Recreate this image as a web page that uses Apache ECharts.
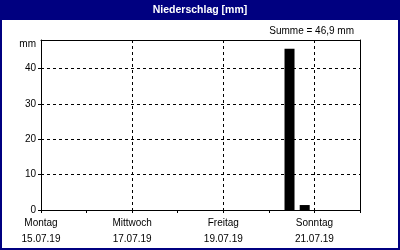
<!DOCTYPE html>
<html>
<head>
<meta charset="utf-8">
<script src="https://cdn.jsdelivr.net/npm/echarts@6/dist/echarts.min.js"></script>
<style>html,body{margin:0;padding:0;background:#fff}#c{width:400px;height:250px}</style>
</head>
<body>
<div id="c"></div>
<script>
// Days shown on the x axis (one tick per day)
const dayNames = ['Montag','Dienstag','Mittwoch','Donnerstag','Freitag','Samstag','Sonntag'];
const dayDates = ['15.07.19','16.07.19','17.07.19','18.07.19','19.07.19','20.07.19','21.07.19'];
// Precipitation in mm per 8-hour bin (3 bins per day, Mon 00:00 .. Sun 24:00)
const rainBins = [
  0, 0, 0,
  0, 0, 0,
  0, 0, 0,
  0, 0, 0,
  0, 0, 0,
  0, 45.5, 1.4,
  0, 0, 0
];
const binsPerDay = 3;
const yMax = 48;
const yStep = 10;

const FONT = 'Liberation Sans';
const total = rainBins.reduce((a, b) => a + b, 0);
const totalText = 'Summe = ' + total.toFixed(1).replace('.', ',') + ' mm';

// bars sit at the start of their bin (left aligned within bin)
const BAR_SHIFT = 0.36;
const barData = rainBins.map((v, i) => [i + BAR_SHIFT, v]);

const black = {color: '#000', width: 1};
const chart = echarts.init(document.getElementById('c'), null, {renderer: 'canvas'});
chart.setOption({
  animation: false,
  backgroundColor: '#ffffff',
  textStyle: {fontFamily: FONT},
  grid: {left: 41, right: 40, top: 40, bottom: 40},
  xAxis: [{
    type: 'value', min: 0, max: rainBins.length, interval: binsPerDay,
    axisLine: {show: true, lineStyle: black},
    axisTick: {show: true, length: 3, lineStyle: black},
    splitLine: {show: false},
    axisLabel: {
      color: '#000', fontSize: 10, fontFamily: FONT, margin: 5, lineHeight: 16,
      formatter: function (v) {
        const d = Math.round(v / binsPerDay);
        if (d % 2 !== 0 || d >= dayNames.length) return '';
        return dayNames[d] + '\n' + dayDates[d];
      }
    }
  }, {
    type: 'value', min: 0, max: rainBins.length, interval: binsPerDay * 2, position: 'top',
    axisLine: {show: true, onZero: false, lineStyle: black}, axisTick: {show: false}, axisLabel: {show: false},
    splitLine: {show: true, showMinLine: false, showMaxLine: false, lineStyle: {color: '#000', width: 1, type: [3, 3]}}
  }],
  yAxis: [{
    type: 'value', min: 0, max: yMax, interval: yStep,
    axisLine: {show: true, lineStyle: black},
    axisTick: {show: true, length: 3, lineStyle: black},
    splitLine: {show: true, showMinLine: false, showMaxLine: false, lineStyle: {color: '#000', width: 1, type: [3, 3]}},
    axisLabel: {color: '#000', fontSize: 10, fontFamily: FONT, margin: 5, showMaxLabel: false}
  }, {
    type: 'value', min: 0, max: yMax, interval: yStep, position: 'right',
    axisLine: {show: true, onZero: false, lineStyle: black},
    axisTick: {show: false}, axisLabel: {show: false}, splitLine: {show: false}
  }],
  graphic: [
    {type: 'rect', shape: {x: 0, y: 0, width: 400, height: 20}, style: {fill: '#000080'}, z: 10},
    {type: 'rect', shape: {x: 1, y: 1, width: 398, height: 248}, style: {fill: 'none', stroke: '#000080', lineWidth: 2}, z: 10},
    {type: 'text', x: 200, y: 10, style: {text: 'Niederschlag [mm]', fill: '#fff', font: 'bold 10.5px "' + FONT + '"', textAlign: 'center', textVerticalAlign: 'middle'}, z: 11},
    {type: 'text', x: 354, y: 31, style: {text: totalText, fill: '#000', font: '10px "' + FONT + '"', textAlign: 'right', textVerticalAlign: 'middle'}, z: 11},
    {type: 'text', x: 36, y: 44, style: {text: 'mm', fill: '#000', font: '10px "' + FONT + '"', textAlign: 'right', textVerticalAlign: 'middle'}, z: 11}
  ],
  series: [{
    type: 'bar', xAxisIndex: 0, yAxisIndex: 0, data: barData, barWidth: 10,
    itemStyle: {color: '#000'}
  }]
});
</script>
</body>
</html>
